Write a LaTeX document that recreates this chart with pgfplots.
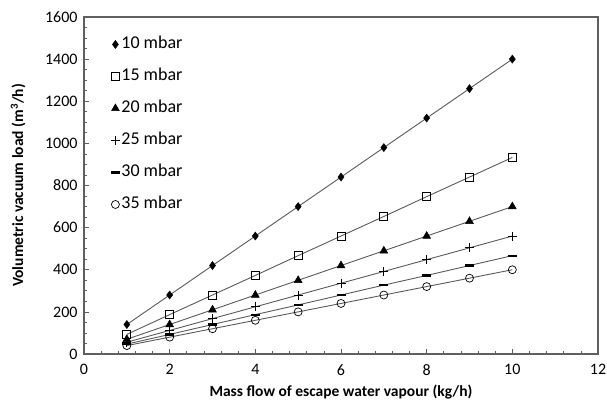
\documentclass[border=0pt]{standalone}
\usepackage{fontspec}
\setmainfont{Carlito}
\usepackage{pgfplots}
\pgfplotsset{compat=1.18}
\definecolor{linegray}{RGB}{90,90,90}
\definecolor{framegray}{RGB}{95,95,95}
\begin{document}
\begin{tikzpicture}
\begin{axis}[
  name=ax,
  scale only axis,
  width=514bp, height=337bp,
  xmin=0, xmax=12, ymin=0, ymax=1600,
  xtick={0,2,...,12}, ytick={0,200,...,1600},
  minor x tick num=4, minor y tick num=3,
  tick align=inside,
  tick pos=left,
  major tick length=5bp, minor tick length=3bp,
  axis line style={framegray, line width=1.2bp},
  tick style={framegray, line width=0.7bp},
  tick label style={font=\fontsize{16bp}{18bp}\selectfont},
  xticklabel style={yshift=-7bp},
  yticklabel style={xshift=-3bp},
  /pgf/number format/assume math mode=true,
  /pgf/number format/1000 sep={},
  xlabel={\bfseries Mass flow of escape water vapour (kg/h)},
  ylabel={\bfseries Volumetric vacuum load (m$^{\mathbf{3}}$/h)},
  label style={font=\fontsize{15.5bp}{17bp}\selectfont},
  xlabel style={at={(axis description cs:0.5,-0.113)}, anchor=center},
  ylabel style={at={(axis description cs:-0.128,0.5)}, anchor=center},
  legend style={draw=none, fill=none, at={(0.052,0.948)}, anchor=north west,
    font=\fontsize{18bp}{20bp}\selectfont, row sep=12.5bp, inner sep=0pt,
    nodes={text height=12.5bp, text depth=4bp, inner sep=1.5bp}},
  legend cell align=left,
  legend image code/.code={\draw[#1,only marks] plot coordinates {(0.05cm,0cm)};},
  every axis plot/.append style={draw=linegray, line width=0.9bp},
]
\addplot[mark=diamond*, mark size=4bp, mark options={draw=black, fill=black, line width=0.5bp}]
  coordinates {(1,140)(2,280)(3,420)(4,560)(5,700)(6,840)(7,980)(8,1120)(9,1260)(10,1400)};
\addlegendentry{10 mbar}
\addplot[mark=square, mark size=4bp, mark options={draw=black, fill=white, line width=0.7bp}]
  coordinates {(1,93)(2,187)(3,280)(4,373)(5,467)(6,560)(7,653)(8,747)(9,840)(10,933)};
\addlegendentry{15 mbar}
\addplot[mark=triangle*, mark size=4.5bp, mark options={draw=black, fill=black, line width=0.5bp}]
  coordinates {(1,70)(2,140)(3,210)(4,280)(5,350)(6,420)(7,490)(8,560)(9,630)(10,700)};
\addlegendentry{20 mbar}
\addplot[mark=+, mark size=4.5bp, mark options={draw=black, line width=0.8bp}]
  coordinates {(1,56)(2,112)(3,168)(4,224)(5,280)(6,336)(7,392)(8,448)(9,504)(10,560)};
\addlegendentry{25 mbar}
\addplot[mark=-, mark size=4.5bp, mark options={draw=black, line width=2.2bp}]
  coordinates {(1,47)(2,93)(3,140)(4,187)(5,233)(6,280)(7,327)(8,373)(9,420)(10,467)};
\addlegendentry{30 mbar}
\addplot[mark=o, mark size=4bp, mark options={draw=black, fill=white, line width=0.7bp}]
  coordinates {(1,40)(2,80)(3,120)(4,160)(5,200)(6,240)(7,280)(8,320)(9,360)(10,400)};
\addlegendentry{35 mbar}
\end{axis}
\draw[framegray, line width=1.2bp] (ax.north west) -- (ax.north east) -- (ax.south east);
\pgfresetboundingbox
\path[use as bounding box] ([xshift=-84bp,yshift=-56bp]ax.south west) rectangle ([xshift=9bp,yshift=17bp]ax.north east);
\end{tikzpicture}
\end{document}
